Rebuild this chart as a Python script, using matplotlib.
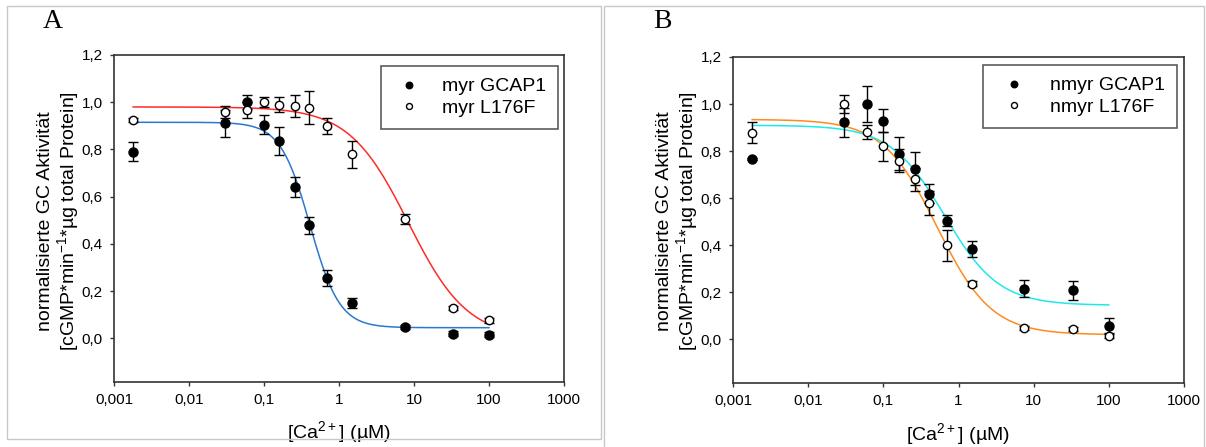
import numpy as np
import matplotlib
matplotlib.use('Agg')
import matplotlib.pyplot as plt
from matplotlib.patches import Rectangle

plt.rcParams['font.family'] = ['Liberation Sans', 'DejaVu Sans']
plt.rcParams['mathtext.default'] = 'regular'

# Ca2+ concentrations (µM)
conc = [0.0018, 0.03, 0.06, 0.1, 0.16, 0.26, 0.4, 0.7, 1.5, 7.5, 33, 100]

# panel A
myr_gcap1 = [0.79, 0.91, 1.0, 0.905, 0.835, 0.64, 0.478, 0.255, 0.15, 0.048, 0.02, 0.015]
myr_gcap1_err = [0.04, 0.057, 0.03, 0.04, 0.06, 0.042, 0.035, 0.033, 0.02, 0.01, 0.01, 0.01]
myr_l176f = [0.925, 0.96, 0.967, 1.0, 0.99, 0.985, 0.977, 0.90, 0.78, 0.506, 0.128, 0.077]
myr_l176f_err = [0.01, 0.025, 0.035, 0.02, 0.03, 0.046, 0.07, 0.033, 0.057, 0.02, 0.01, 0.01]

# panel B
nmyr_gcap1 = [0.766, 0.922, 1.0, 0.93, 0.79, 0.726, 0.62, 0.505, 0.385, 0.216, 0.209, 0.058]
nmyr_gcap1_err = [0.005, 0.06, 0.075, 0.05, 0.07, 0.07, 0.04, 0.025, 0.035, 0.035, 0.04, 0.032]
nmyr_l176f = [0.879, 1.0, 0.88, 0.82, 0.76, 0.68, 0.58, 0.40, 0.237, 0.05, 0.044, 0.014]
nmyr_l176f_err = [0.046, 0.04, 0.03, 0.06, 0.05, 0.05, 0.05, 0.066, 0.01, 0.008, 0.008, 0.008]

# Hill fit parameters: top, bottom, IC50, Hill coefficient
fit_myr_gcap1 = (0.915, 0.045, 0.41, 2.2)
fit_myr_l176f = (0.98, 0.0, 8.4, 1.1)
fit_nmyr_gcap1 = (0.91, 0.145, 0.65, 1.2)
fit_nmyr_l176f = (0.935, 0.02, 0.52, 1.2)

xticks = [0.001, 0.01, 0.1, 1, 10, 100, 1000]
xticklabels = ['0,001', '0,01', '0,1', '1', '10', '100', '1000']
yticks = [0.0, 0.2, 0.4, 0.6, 0.8, 1.0, 1.2]
yticklabels = ['0,0', '0,2', '0,4', '0,6', '0,8', '1,0', '1,2']


def hill(x, p):
    top, bottom, ic50, n = p
    return bottom + (top - bottom) / (1 + (x / ic50) ** n)


W, H = 1206, 447
fig = plt.figure(figsize=(W / 100, H / 100), dpi=100)

# panel frames
fig.patches.append(Rectangle((7 / W, (H - 439) / H), 594 / W, 433 / H, transform=fig.transFigure,
                             fill=False, edgecolor='#c8c8c8', lw=1))
fig.patches.append(Rectangle((604 / W, -0.05), 600 / W, (H - 6) / H + 0.05, transform=fig.transFigure,
                             fill=False, edgecolor='#c8c8c8', lw=1))


def panel(rect, filled, filled_err, opened, opened_err, fit_f, fit_o, col_f, col_o, labels,
          leg_anchor, handlelength, textpad, ylab_x, xlab_y, letter, letter_xy):
    ax = fig.add_axes(rect)
    xs = np.logspace(np.log10(conc[0]), np.log10(conc[-1]), 300)
    ax.plot(xs, hill(xs, fit_o), color=col_o, lw=1.1, zorder=2)
    ax.plot(xs, hill(xs, fit_f), color=col_f, lw=1.1, zorder=2)
    ax.errorbar(conc, opened, yerr=opened_err, fmt='none', ecolor='black', elinewidth=1,
                capsize=3.5, capthick=1, zorder=3)
    ax.errorbar(conc, filled, yerr=filled_err, fmt='none', ecolor='black', elinewidth=1,
                capsize=3.5, capthick=1, zorder=3)
    ax.plot(conc, filled, 'o', color='black', ms=6.5, zorder=4, label=labels[0])
    ax.plot(conc, opened, 'o', mfc='white', mec='black', mew=1, ms=6, zorder=5, label=labels[1])
    ax.set_xscale('log')
    ax.set_xlim(0.001, 1000)
    ax.set_ylim(-0.185, 1.2)
    ax.set_xticks(xticks)
    ax.set_xticklabels(xticklabels)
    ax.xaxis.set_minor_locator(matplotlib.ticker.NullLocator())
    ax.set_yticks(yticks)
    ax.set_yticklabels(yticklabels)
    ax.tick_params(direction='out', length=3, width=1, labelsize=11, pad=5, color='#333333')
    for s in ax.spines.values():
        s.set_linewidth(1.2)
        s.set_color('#333333')
    leg = ax.legend(loc='upper right', bbox_to_anchor=leg_anchor, fontsize=14, frameon=True,
                    fancybox=False, edgecolor='#333333', borderpad=0.6, labelspacing=0.2,
                    handlelength=handlelength, handletextpad=textpad, markerscale=0.72,
                    borderaxespad=0)
    leg.get_frame().set_linewidth(1.2)
    ax.set_xlabel('[Ca$^{2+}$] (µM)', fontsize=14)
    ax.xaxis.set_label_coords(0.5, xlab_y)
    fig.text(ylab_x, 0.5 + 0.005,
             'normalisierte GC Aktivität\n[cGMP*min$^{-1}$*µg total Protein]',
             rotation=90, ha='center', va='center', fontsize=14, linespacing=1.05,
             multialignment='center')
    fig.text(letter_xy[0] / W, 1 - letter_xy[1] / H, letter, family='Liberation Serif',
             fontsize=20, ha='center', va='center')
    return ax


panel([114 / W, (H - 382) / H, 450 / W, 327 / H],
      myr_gcap1, myr_gcap1_err, myr_l176f, myr_l176f_err,
      fit_myr_gcap1, fit_myr_l176f, '#2b78d0', '#ff2a2a',
      ['myr GCAP1', 'myr L176F'], (0.987, 0.966), 1.68, 0.9, 59 / W, -0.113, 'A', (53, 21))

panel([733 / W, (H - 383) / H, 451 / W, 326 / H],
      nmyr_gcap1, nmyr_gcap1_err, nmyr_l176f, nmyr_l176f_err,
      fit_nmyr_gcap1, fit_nmyr_l176f, '#1ee8ec', '#ff8a1e',
      ['nmyr GCAP1', 'nmyr L176F'], (0.9845, 0.975), 2.0, 0.85, 678 / W, -0.117, 'B', (662, 22))

fig.savefig('out.png', dpi=100)
